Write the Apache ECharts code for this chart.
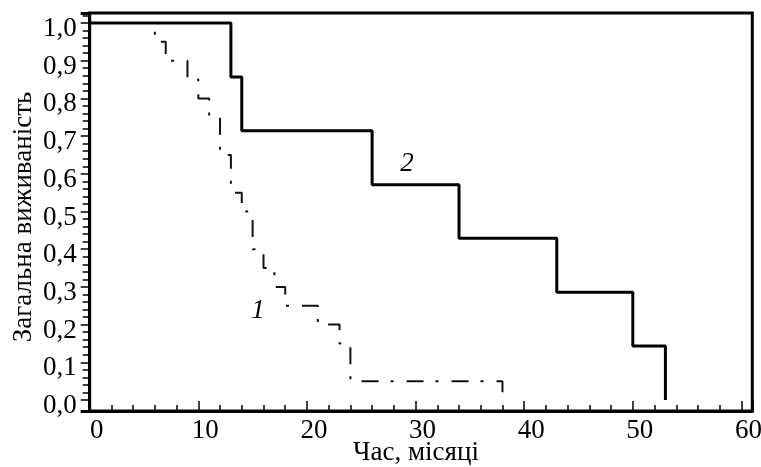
<!DOCTYPE html>
<html>
<head>
<meta charset="utf-8">
<script src="https://cdn.jsdelivr.net/npm/echarts@6/dist/echarts.min.js"></script>
<style>
html,body{margin:0;padding:0;background:#fff;}
#chart{width:761px;height:467px;}
</style>
</head>
<body>
<div id="chart"></div>
<script>
// Group 1 (dash-dot): time, months and overall survival after each event
const times1 = [0, 6, 7, 9, 10, 11, 12, 13, 14, 15, 16, 17, 18, 21, 23, 24, 38];
const surv1  = [1.0, 0.95, 0.90, 0.85, 0.80, 0.75, 0.65, 0.55, 0.50, 0.40, 0.35, 0.30, 0.25, 0.20, 0.15, 0.05, 0.0];
// Group 2 (solid)
const times2 = [0, 13, 14, 26, 34, 43, 50, 53];
const surv2  = [1.0, 0.857, 0.714, 0.571, 0.429, 0.286, 0.143, 0.0];
// Tick labels
const yTickValues = [0, 0.1, 0.2, 0.3, 0.4, 0.5, 0.6, 0.7, 0.8, 0.9, 1.0];
const yMinorValues = [];
for (let i = 0; i <= 51; i++) { const v = i * 2 / 100; if (i % 5 !== 0) yMinorValues.push(v); }
const curveNames = ['1', '2'];
const curveLabelPos = [[15.5, 0.236], [29.2, 0.625]];
const xName = 'Час, місяці';
const yName = 'Загальна виживаність';

const Y_MIN = -0.0292, Y_MAX = 1.0265, X_MIN = 0, X_MAX = 61;
const FONT = "'Liberation Serif', 'Times New Roman', serif";
const FS = 27;

const pairs = (t, s) => t.map((x, i) => [x, s[i]]);

const chart = echarts.init(document.getElementById('chart'), null, {renderer: 'canvas'});
const baseY = {
  type: 'value', min: Y_MIN, max: Y_MAX, position: 'left',
  splitLine: {show: false}, axisLine: {show: false, onZero: false}
};
chart.setOption({
  backgroundColor: '#fff',
  animation: false,
  grid: {left: 89.7, right: 8.7, top: 13, bottom: 56, containLabel: false, outerBoundsMode: 'none',
    show: true, borderColor: '#000', borderWidth: 3, backgroundColor: 'transparent'},
  xAxis: {
    type: 'value', min: X_MIN, max: X_MAX, interval: 10,
    name: xName, nameLocation: 'middle', nameGap: 28, nameMoveOverlap: false,
    nameTextStyle: {fontFamily: FONT, fontSize: FS, color: '#000', padding: [0, 10, 0, 0]},
    axisLine: {show: true, onZero: false, lineStyle: {color: '#000', width: 3}},
    axisTick: {show: true, inside: true, length: 10, lineStyle: {color: '#000', width: 1.5}},
    minorTick: {show: true, splitNumber: 5, length: 6, lineStyle: {color: '#000', width: 1.5}},
    splitLine: {show: false},
    axisLabel: {fontFamily: FONT, fontSize: FS, color: '#000', margin: 6, padding: [0, 0, 0, 14],
      formatter: v => (v > 60 ? '' : String(v))}
  },
  yAxis: [
    Object.assign({}, baseY, {
      name: yName, nameLocation: 'middle', nameGap: 52, nameRotate: 90, nameMoveOverlap: false,
      nameTextStyle: {fontFamily: FONT, fontSize: FS, color: '#000', padding: [0, 10, 0, 0]},
      axisLine: {show: true, onZero: false, lineStyle: {color: '#000', width: 3}},
      axisTick: {show: true, length: 9, customValues: yTickValues, lineStyle: {color: '#000', width: 1.5}},
      axisLabel: {show: true, customValues: yTickValues, fontFamily: FONT, fontSize: FS, color: '#000', margin: 13,
        verticalAlign: 'top', lineHeight: 12,
        formatter: v => v.toFixed(1).replace('.', ',')}
    }),
    Object.assign({}, baseY, {
      axisTick: {show: true, length: 7, customValues: yMinorValues, lineStyle: {color: '#000', width: 1.5}},
      axisLabel: {show: false}
    }),
    Object.assign({}, baseY, {
      axisTick: {show: true, length: 9, customValues: [Y_MIN, Y_MAX], lineStyle: {color: '#000', width: 3}},
      axisLabel: {show: false}
    })
  ],
  series: [
    {
      type: 'line', name: curveNames[0], step: 'end', data: pairs(times1, surv1),
      symbol: 'none', yAxisIndex: 0,
      lineStyle: {color: '#111', width: 2, type: [17, 12, 3, 13], dashOffset: 0},
      markPoint: {symbol: 'circle', symbolSize: 0, silent: true,
        data: [{coord: curveLabelPos[0], value: curveNames[0]}],
        label: {show: true, formatter: '{c}', fontFamily: FONT, fontStyle: 'italic', fontSize: FS, color: '#000', position: 'inside'}}
    },
    {
      type: 'line', name: curveNames[1], step: 'end', data: pairs(times2, surv2),
      symbol: 'none', yAxisIndex: 0,
      lineStyle: {color: '#000', width: 3},
      markPoint: {symbol: 'circle', symbolSize: 0, silent: true,
        data: [{coord: curveLabelPos[1], value: curveNames[1]}],
        label: {show: true, formatter: '{c}', fontFamily: FONT, fontStyle: 'italic', fontSize: FS, color: '#000', position: 'inside'}}
    }
  ]
});
</script>
</body>
</html>
